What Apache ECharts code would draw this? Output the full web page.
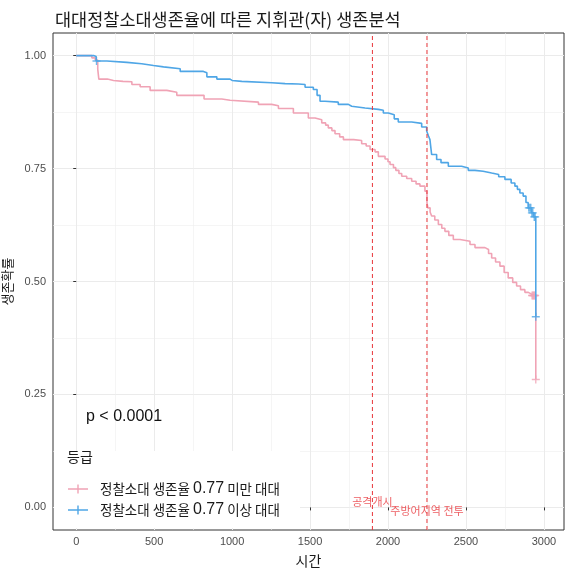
<!DOCTYPE html>
<html>
<head>
<meta charset="utf-8">
<script src="https://cdn.jsdelivr.net/npm/echarts@6/dist/echarts.min.js"></script>
<style>
  html, body { margin: 0; padding: 0; background: #ffffff; }
  #chart { width: 567px; height: 570px; }
</style>
</head>
<body>
<div id="chart"></div>
<script>
// Kaplan-Meier estimates (time, survival) for each group
const groupNames = ['정찰소대 생존율 0.77 미만 대대', '정찰소대 생존율 0.77 이상 대대'];

const lowTime = [0,100,122,138,145,200,239,300,357,410,474,581,645,820,934,987,1169,1254,1297,1393,1489,1532,1575,1600,1617,1640,1660,1690,1714,1780,1831,1860,1885,1917,1938,1981,2000,2013,2035,2050,2070,2088,2120,2152,2180,2205,2237,2250,2256,2270,2280,2300,2323,2345,2365,2390,2419,2462,2526,2558,2622,2645,2665,2690,2718,2745,2771,2800,2825,2850,2878,2900,2921,2948];
const lowSurv = [1.000,0.995,0.990,0.970,0.948,0.945,0.943,0.942,0.936,0.931,0.923,0.919,0.912,0.904,0.901,0.897,0.892,0.889,0.883,0.873,0.862,0.858,0.851,0.846,0.840,0.834,0.827,0.820,0.814,0.812,0.805,0.800,0.792,0.787,0.777,0.771,0.765,0.759,0.752,0.746,0.739,0.733,0.728,0.722,0.716,0.711,0.700,0.674,0.663,0.654,0.645,0.636,0.626,0.618,0.611,0.602,0.593,0.589,0.582,0.575,0.571,0.562,0.552,0.543,0.534,0.520,0.508,0.498,0.490,0.482,0.476,0.472,0.469,0.283];

const highTime = [0,111,128,197,325,420,496,560,667,816,838,902,987,1000,1062,1254,1340,1425,1468,1521,1545,1564,1596,1681,1746,1767,1853,1938,1970,2002,2040,2066,2152,2216,2248,2260,2269,2280,2312,2340,2387,2472,2515,2558,2610,2665,2710,2750,2790,2814,2830,2846,2867,2885,2899,2920,2935,2948];
const highSurv = [1.000,0.998,0.988,0.985,0.982,0.978,0.975,0.971,0.965,0.962,0.953,0.948,0.945,0.943,0.940,0.938,0.937,0.936,0.930,0.925,0.912,0.899,0.897,0.892,0.888,0.884,0.881,0.879,0.873,0.869,0.860,0.853,0.850,0.842,0.833,0.822,0.814,0.781,0.770,0.763,0.755,0.751,0.746,0.744,0.740,0.737,0.732,0.726,0.718,0.711,0.704,0.696,0.689,0.675,0.663,0.652,0.643,0.422];

// Censored observations
const lowCensorTime = [2924, 2929, 2934, 2939, 2944, 2948];
const lowCensorSurv = [0.469, 0.469, 0.469, 0.469, 0.469, 0.283];
const highCensorTime = [130, 2903, 2910, 2916, 2923, 2929, 2938, 2944, 2948];
const highCensorSurv = [0.988, 0.663, 0.663, 0.663, 0.652, 0.652, 0.643, 0.643, 0.422];

// Reference events
const eventTime = [1900, 2250];
const eventLabelY = [0.013, -0.007];
const eventLabel = ['공격개시', '주방어지역 전투'];

// Axis ranges and ticks
const xRange = [-149, 3129];
const yRange = [-0.05, 1.05];
const xTicks = [0, 500, 1000, 1500, 2000, 2500, 3000];
const xMinorTicks = [250, 750, 1250, 1750, 2250, 2750];
const yTicks = [0, 0.25, 0.5, 0.75, 1.0];
const yMinorTicks = [0.125, 0.375, 0.625, 0.875];

const PINK = '#F0A3B5';
const BLUE = '#4FA6E6';
const RED = '#E8353A';
const PLUS = 'path://M4.15,0 H5.85 V4.15 H10 V5.85 H5.85 V10 H4.15 V5.85 H0 V4.15 H4.15 Z';
const KEY = 'path://M0,4.3 H20 V5.7 H0 Z M9.3,0.5 H10.7 V9.5 H9.3 Z';
const CJK = "'Noto Sans CJK KR', 'Liberation Sans', sans-serif";
const LAT = "'Liberation Sans', 'Noto Sans CJK KR', sans-serif";

const zip = (a, b) => a.map((v, i) => [v, b[i]]);

const chart = echarts.init(document.getElementById('chart'), null, { renderer: 'canvas' });

const majorGrid = { show: true, lineStyle: { color: '#EBEBEB', width: 1 } };
const minorGrid = { show: true, lineStyle: { color: '#EEEEEE', width: 0.6 } };

// vertical dashed reference lines, one series per event, drawn over the curves
const eventSeries = eventTime.map((t, i) => ({
  name: 'event-' + i, type: 'line', showSymbol: false, silent: true, z: 4,
  data: [[t, yRange[0]], [t, yRange[1]]],
  lineStyle: { color: RED, type: [4, 3], width: 1 },
  itemStyle: { color: RED }
}));

chart.setOption({
  animation: false,
  backgroundColor: '#ffffff',
  title: {
    text: '대대정찰소대생존율에 따른 지휘관(자) 생존분석',
    left: 50, top: 6,
    textStyle: { fontFamily: CJK, fontSize: 17.5, fontWeight: 'normal', color: '#1a1a1a' }
  },
  grid: {
    left: 53, right: 3, top: 33, bottom: 40,
    outerBoundsMode: 'none', containLabel: false,
    show: true, borderColor: '#333333', borderWidth: 1, backgroundColor: '#ffffff'
  },
  xAxis: [
    {
      type: 'value', min: xRange[0], max: xRange[1],
      name: '시간', nameLocation: 'middle', nameGap: 24,
      nameTextStyle: { fontFamily: CJK, fontSize: 14, color: '#1a1a1a' },
      axisLine: { show: false },
      axisTick: { show: true, length: 3, customValues: xTicks, lineStyle: { color: '#333333' } },
      axisLabel: { customValues: xTicks, margin: 6, fontFamily: LAT, fontSize: 11, color: '#4D4D4D',
                   formatter: v => String(v) },
      splitLine: majorGrid
    },
    {
      type: 'value', min: xRange[0], max: xRange[1], position: 'top',
      axisLine: { show: false },
      axisTick: { show: false, customValues: xMinorTicks },
      axisLabel: { show: false },
      splitLine: minorGrid
    }
  ],
  yAxis: [
    {
      type: 'value', min: yRange[0], max: yRange[1],
      name: '생존확률', nameLocation: 'middle', nameGap: 30, nameRotate: 90,
      nameTextStyle: { fontFamily: CJK, fontSize: 13, color: '#1a1a1a' },
      axisLine: { show: false },
      axisTick: { show: true, length: 3, customValues: yTicks, lineStyle: { color: '#333333' } },
      axisLabel: { customValues: yTicks, margin: 7, fontFamily: LAT, fontSize: 11, color: '#4D4D4D',
                   formatter: v => v.toFixed(2) },
      splitLine: majorGrid
    },
    {
      type: 'value', min: yRange[0], max: yRange[1], position: 'right',
      axisLine: { show: false },
      axisTick: { show: false, customValues: yMinorTicks },
      axisLabel: { show: false },
      splitLine: minorGrid
    }
  ],
  legend: {
    data: [{ name: groupNames[0], icon: KEY }, { name: groupNames[1], icon: KEY }],
    orient: 'vertical', left: 63, top: 476,
    itemWidth: 20, itemHeight: 10, itemGap: 5,
    z: 5,
    formatter: name => name.replace('0.77', '{n|0.77}'),
    textStyle: {
      fontFamily: CJK, fontSize: 13.5, color: '#1a1a1a', padding: [0, 0, 0, 7],
      rich: { n: { fontFamily: LAT, fontSize: 16, color: '#1a1a1a' } }
    }
  },
  graphic: [
    { type: 'rect', z: 3, silent: true, shape: { x: 54, y: 451, width: 246, height: 77 },
      style: { fill: '#ffffff' } },
    { type: 'text', z: 5, left: 67, top: 450, silent: true,
      style: { text: '등급', fontFamily: CJK, fontSize: 14, fill: '#1a1a1a' } },
    { type: 'text', z: 5, left: 86, top: 409, silent: true,
      style: { text: 'p < 0.0001', fontFamily: LAT, fontSize: 16, fill: '#111111' } }
  ],
  series: [
    {
      name: groupNames[0], type: 'line', step: 'end', showSymbol: false,
      data: zip(lowTime, lowSurv),
      lineStyle: { color: PINK, width: 1.6 }, itemStyle: { color: PINK }, z: 2
    },
    {
      name: groupNames[1], type: 'line', step: 'end', showSymbol: false,
      data: zip(highTime, highSurv),
      lineStyle: { color: BLUE, width: 1.6 }, itemStyle: { color: BLUE }, z: 3
    },
    {
      name: 'censor-low', type: 'scatter', symbol: PLUS, symbolSize: 8,
      data: zip(lowCensorTime, lowCensorSurv), itemStyle: { color: PINK }, z: 2
    },
    {
      name: 'censor-high', type: 'scatter', symbol: PLUS, symbolSize: 8,
      data: zip(highCensorTime, highCensorSurv), itemStyle: { color: BLUE }, z: 3
    },
    ...eventSeries,
    {
      name: 'events', type: 'scatter', symbolSize: 0, silent: true, z: 4,
      itemStyle: { color: RED },
      data: eventTime.map((t, i) => ({ value: [t, eventLabelY[i]], name: eventLabel[i] })),
      label: {
        show: true, position: 'inside', formatter: p => p.name,
        fontFamily: CJK, fontSize: 11, color: RED
      }
    }
  ]
});
</script>
</body>
</html>
